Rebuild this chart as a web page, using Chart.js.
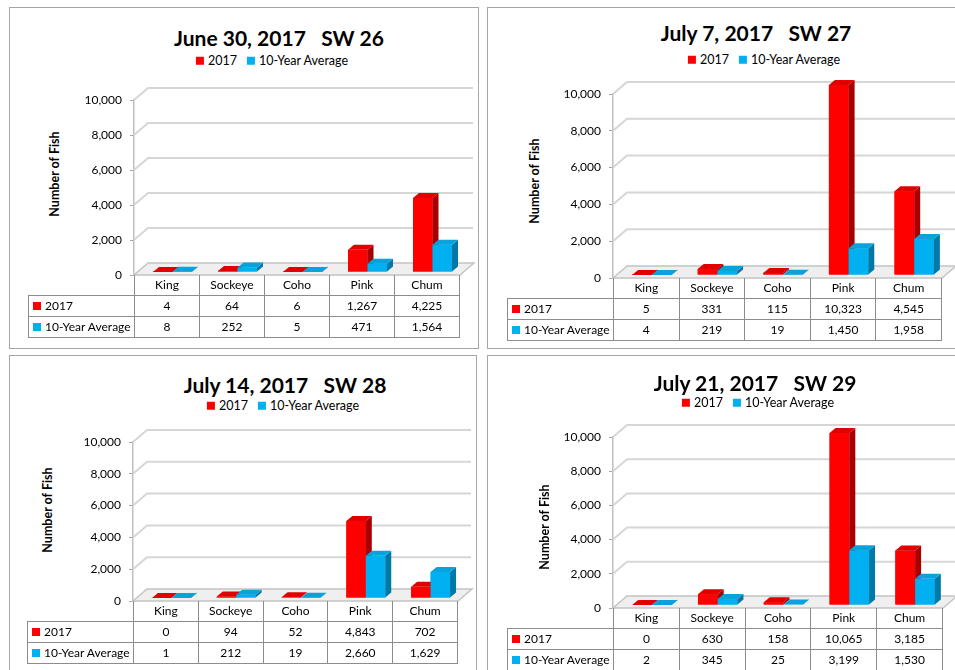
<!DOCTYPE html>
<html>
<head>
<meta charset="utf-8">
<title>Fish counts SW 26-29</title>
<script src="https://cdn.jsdelivr.net/npm/chart.js@4.4.1/dist/chart.umd.min.js"></script>
<style>
  body { margin: 0; width: 955px; height: 670px; overflow: hidden; position: relative; background: #fff; font-family: Lato, 'Open Sans', sans-serif; color: #000; }
  .box { position: absolute; border: 1px solid #a6a6a6; box-sizing: border-box; }
  canvas { position: absolute; }
  .title { position: absolute; font-weight: bold; font-size: 21px; white-space: pre; transform: translate(-50%, -50%); line-height: 1; }
  .legend { position: absolute; font-size: 12.5px; white-space: nowrap; transform: translate(-50%, -50%); display: flex; align-items: center; line-height: 1; }
  .legend i, .cell i { display: inline-block; width: 8px; height: 8px; margin-right: 4px; }
  .legend span { margin-right: 10px; display: flex; align-items: center; }
  .ytitle { position: absolute; font-weight: bold; font-size: 12.5px; white-space: nowrap; transform: translate(-50%, -50%) rotate(-90deg); line-height: 1; }
  .cell { position: absolute; box-sizing: border-box; font-size: 12px; display: flex; align-items: center; justify-content: center; border-color: #8c8c8c; border-style: solid; border-width: 0; line-height: 1; }
</style>
</head>
<body>
<script>
// data
const categories = ['King', 'Sockeye', 'Coho', 'Pink', 'Chum'];
const seriesNames = ['2017', '10-Year Average'];
const yTicks = [0, 2000, 4000, 6000, 8000, 10000];

const sw26_2017 = [4, 64, 6, 1267, 4225];
const sw26_avg = [8, 252, 5, 471, 1564];
const sw27_2017 = [5, 331, 115, 10323, 4545];
const sw27_avg = [4, 219, 19, 1450, 1958];
const sw28_2017 = [0, 94, 52, 4843, 702];
const sw28_avg = [1, 212, 19, 2660, 1629];
const sw29_2017 = [0, 630, 158, 10065, 3185];
const sw29_avg = [2, 345, 25, 3199, 1530];

const colors = {
  front: ['#ff0000', '#00b0f0'],
  top: ['#e00000', '#0aa2dc'],
  side: ['#a80000', '#0079a8']
};

// page positions of each chart block
const panels = [
  { title: 'June 30, 2017   SW 26', values: [sw26_2017, sw26_avg],
    box: [9, 7, 479, 349], area: [134, 100, 459, 275], labelLeft: 28,
    titleAt: [279, 37], legendAt: [277, 61], yTitleAt: [55, 174] },
  { title: 'July 7, 2017   SW 27', values: [sw27_2017, sw27_avg],
    box: [487, 7, 975, 349], area: [613, 94, 941, 278], labelLeft: 507,
    titleAt: [756, 32], legendAt: [769, 60], yTitleAt: [535, 181] },
  { title: 'July 14, 2017   SW 28', values: [sw28_2017, sw28_avg],
    box: [9, 355, 477, 690], area: [133, 442, 457, 601], labelLeft: 27,
    titleAt: [285, 384], legendAt: [288, 406], yTitleAt: [48, 510] },
  { title: 'July 21, 2017   SW 29', values: [sw29_2017, sw29_avg],
    box: [487, 355, 975, 690], area: [613, 437, 942, 608], labelLeft: 507,
    titleAt: [755, 382], legendAt: [763, 403], yTitleAt: [545, 527] }
];

const wall = { dx: 14, dy: -12 };
const shift = { dx: 6, dy: -3 };
const face = { dx: 6, dy: -5 };
const axisW = 70;

function fmt(v) { return Number(v).toLocaleString('en-US'); }

function poly(ctx, pts) {
  ctx.beginPath();
  ctx.moveTo(pts[0][0], pts[0][1]);
  for (let k = 1; k < pts.length; k++) ctx.lineTo(pts[k][0], pts[k][1]);
  ctx.closePath();
  ctx.fill();
}

// back wall, floor and the side/top faces of the bars
const box3d = {
  id: 'box3d',
  beforeDatasetsDraw(chart) {
    const { ctx, chartArea: a, scales: { y } } = chart;
    ctx.save();
    ctx.lineWidth = 2;
    ctx.strokeStyle = '#d6d6d6';
    yTicks.slice(1).forEach(v => {
      const py = y.getPixelForValue(v);
      ctx.beginPath();
      ctx.moveTo(a.left, py);
      ctx.lineTo(a.left + wall.dx, py + wall.dy);
      ctx.lineTo(a.right + wall.dx, py + wall.dy);
      ctx.stroke();
    });
    ctx.beginPath();
    ctx.moveTo(a.left, a.bottom);
    ctx.lineTo(a.right + 1, a.bottom);
    ctx.lineTo(a.right + 1 + wall.dx, a.bottom + wall.dy);
    ctx.lineTo(a.left + wall.dx, a.bottom + wall.dy);
    ctx.closePath();
    ctx.fillStyle = '#efefef';
    ctx.fill();
    ctx.lineWidth = 1.5;
    ctx.strokeStyle = '#c4c4c4';
    ctx.stroke();
    ctx.restore();
    ctx.save();
    ctx.translate(shift.dx, shift.dy);
  },
  afterDatasetsDraw(chart) {
    const ctx = chart.ctx;
    chart.data.datasets.forEach((ds, i) => {
      chart.getDatasetMeta(i).data.forEach(bar => {
        const { x, y, base, width } = bar.getProps(['x', 'y', 'base', 'width'], true);
        const l = x - width / 2, r = x + width / 2;
        bar.draw(ctx);
        ctx.fillStyle = colors.side[i];
        poly(ctx, [[r, y], [r + face.dx, y + face.dy], [r + face.dx, base + face.dy], [r, base]]);
        ctx.fillStyle = colors.top[i];
        poly(ctx, [[l, y], [r, y], [r + face.dx, y + face.dy], [l + face.dx, y + face.dy]]);
      });
    });
    ctx.restore();
  }
};

function addDiv(cls, x, y, html) {
  const d = document.createElement('div');
  d.className = cls;
  d.style.left = x + 'px';
  d.style.top = y + 'px';
  d.innerHTML = html;
  document.body.appendChild(d);
  return d;
}

function addCell(x, y, w, h, html, borders) {
  const d = addDiv('cell', x, y, html);
  d.style.width = w + 'px';
  d.style.height = h + 'px';
  d.style.borderWidth = borders;
  return d;
}

panels.forEach(p => {
  const [bl, bt, br, bb] = p.box;
  const [al, at, ar, ab] = p.area;

  const frame = addDiv('box', bl, bt, '');
  frame.style.width = (br - bl) + 'px';
  frame.style.height = (bb - bt) + 'px';

  addDiv('title', p.titleAt[0], p.titleAt[1], p.title);
  addDiv('legend', p.legendAt[0], p.legendAt[1],
    seriesNames.map((s, i) => '<span><i style="background:' + colors.front[i] + '"></i>' + s + '</span>').join(''));
  addDiv('ytitle', p.yTitleAt[0], p.yTitleAt[1], 'Number of Fish');

  const canvas = document.createElement('canvas');
  canvas.width = br - bl;
  canvas.height = bb - bt;
  canvas.style.left = bl + 'px';
  canvas.style.top = bt + 'px';
  document.body.appendChild(canvas);

  new Chart(canvas, {
    type: 'bar',
    data: {
      labels: categories,
      datasets: seriesNames.map((name, i) => ({
        label: name,
        data: p.values[i],
        backgroundColor: colors.front[i],
        borderWidth: 0,
        clip: false
      }))
    },
    options: {
      responsive: false,
      animation: false,
      layout: {
        autoPadding: false,
        padding: { left: al - bl - axisW, top: at - bt, right: br - ar, bottom: bb - ab }
      },
      datasets: { bar: { categoryPercentage: 0.6, barPercentage: 1 } },
      plugins: { legend: { display: false }, title: { display: false }, tooltip: { enabled: false } },
      scales: {
        x: { display: false },
        y: {
          min: 0,
          max: 10000,
          afterFit(s) { s.width = axisW; },
          afterBuildTicks(s) { s.ticks = yTicks.map(v => ({ value: v })); },
          ticks: { padding: 8, color: '#000', font: { family: 'Lato', size: 12 }, callback: v => fmt(v) },
          grid: { drawOnChartArea: false, drawTicks: true, tickLength: 4, color: '#a6a6a6' },
          border: { color: '#c0c0c0', width: 1.5 }
        }
      }
    },
    plugins: [box3d]
  });

  // data table under the plot
  const colW = (ar - al) / categories.length;
  const rowH = [20, 21, 21];
  categories.forEach((c, j) => addCell(al + j * colW, ab, colW + 1, rowH[0], c, '0 1px 0 1px'));
  seriesNames.forEach((s, i) => {
    const y = ab + rowH[0] + (i ? rowH[1] : 0);
    const label = addCell(p.labelLeft, y, al - p.labelLeft + 1, rowH[i + 1] + 1,
      '<i style="background:' + colors.front[i] + '"></i>' + s, '1px');
    label.style.justifyContent = 'flex-start';
    label.style.paddingLeft = '4px';
    p.values[i].forEach((v, j) => addCell(al + j * colW, y, colW + 1, rowH[i + 1] + 1, fmt(v), '1px'));
  });
});
</script>
</body>
</html>
